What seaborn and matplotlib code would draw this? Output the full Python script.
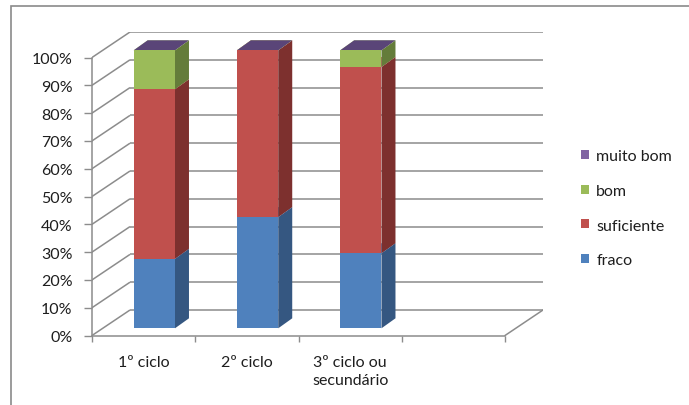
import matplotlib
matplotlib.use("Agg")
import matplotlib.pyplot as plt
import numpy as np
import pandas as pd
import seaborn as sns
from matplotlib.patches import Polygon, Rectangle
from matplotlib.transforms import ScaledTranslation

# ---- data (percent of pupils per level) ----
categories = ["1º ciclo", "2º ciclo", "3º ciclo ou\nsecundário"]
levels = ["fraco", "suficiente", "bom", "muito bom"]
fraco = [25, 40, 27]
suficiente = [61, 60, 67]
bom = [14, 0, 6]
muito_bom = [0, 0, 0]
yticks = [0, 10, 20, 30, 40, 50, 60, 70, 80, 90, 100]
ytick_labels = [f"{v}%" for v in yticks]

front_colors = {"fraco": "#4F81BD", "suficiente": "#C0504D",
                "bom": "#9BBB59", "muito bom": "#8064A2"}
side_colors = {"fraco": "#355781", "suficiente": "#7D302E",
               "bom": "#647C3A", "muito bom": "#5A4578"}
top_colors = {"fraco": "#6A94C9", "suficiente": "#CF6E6B",
              "bom": "#AECB74", "muito bom": "#5F4A7C"}
grid_color = "#8C8C8C"
text_color = "#1E1E1E"
fs = 11.5

df = pd.DataFrame({"ciclo": categories, "fraco": fraco, "suficiente": suficiente,
                   "bom": bom, "muito bom": muito_bom})
cum = df[levels].cumsum(axis=1)
cum["ciclo"] = df["ciclo"]

sns.set_theme(style="white")
plt.rcParams["font.family"] = ["Lato", "DejaVu Sans"]
plt.rcParams["font.size"] = fs

W, H = 689, 406
fig = plt.figure(figsize=(W / 100, H / 100), dpi=100)

# plotting box in pixels: front plane from left/bottom, back wall up to right/top
left, right, bottom, top = 92, 543, 336.5, 33
slot = 103.25          # pixels per category slot
unit = 2.78            # pixels per percent
ax = fig.add_axes([left / W, 1 - bottom / H, (right - left) / W, (bottom - top) / H])

# oblique depth of the floor/wall and of the bars (in data units)
wall_dx, wall_dy = 38 / slot, 25.5 / unit
bar_dx, bar_dy = 14 / slot, 10 / unit
bar_shift = ScaledTranslation(10.7 / 100, 7.2 / 100, fig.dpi_scale_trans)
n_slots = 4
x0, x1 = -0.5, n_slots - 0.5

# back wall gridlines with their diagonal returns to the front axis
for v in yticks:
    ax.plot([x0, x0 + wall_dx], [v, v + wall_dy], color=grid_color, lw=1.1, zorder=1,
            solid_capstyle="butt")
    ax.plot([x0 + wall_dx, x1 + wall_dx], [v + wall_dy] * 2, color=grid_color, lw=1.1,
            zorder=1, solid_capstyle="butt")
# floor right edge
ax.plot([x1, x1 + wall_dx], [0, wall_dy], color=grid_color, lw=1.1, zorder=1)

# front faces: cumulative stacks drawn from the tallest down
bar_width = 0.4
for lvl in reversed(levels):
    before = len(ax.patches)
    sns.barplot(data=cum, x="ciclo", y=lvl, order=categories, color=front_colors[lvl],
                saturation=1, width=bar_width, linewidth=0, errorbar=None, ax=ax)
    for p in ax.patches[before:]:
        p.set_transform(ax.transData + bar_shift)
        p.set_zorder(3)

# side and top faces of every stacked segment
for i, cat in enumerate(categories):
    xa = i - bar_width / 2
    xb = i + bar_width / 2
    base = 0
    for k, lvl in enumerate(levels):
        h = df.loc[i, lvl]
        b, t = base, base + h
        if h > 0:
            side = Polygon([(xb, b), (xb + bar_dx, b + bar_dy), (xb + bar_dx, t + bar_dy), (xb, t)],
                           closed=True, facecolor=side_colors[lvl], edgecolor="none",
                           zorder=2 + 0.01 * k, transform=ax.transData + bar_shift)
            ax.add_patch(side)
        cap = Polygon([(xa, t), (xb, t), (xb + bar_dx, t + bar_dy), (xa + bar_dx, t + bar_dy)],
                      closed=True, facecolor=top_colors[lvl] if lvl != "muito bom" else side_colors[lvl],
                      edgecolor="none", zorder=2 + 0.01 * k, transform=ax.transData + bar_shift)
        ax.add_patch(cap)
        base = t

ax.set_xlim(x0, x0 + (right - left) / slot)
ax.set_ylim(0, (bottom - top) / unit)

# axes: front vertical axis and floor front edge
for s in ["top", "right"]:
    ax.spines[s].set_visible(False)
ax.spines["left"].set_bounds(0, 100)
ax.spines["bottom"].set_bounds(x0, x1)
for s in ["left", "bottom"]:
    ax.spines[s].set_color(grid_color)
    ax.spines[s].set_linewidth(1.1)
    ax.spines[s].set_zorder(1)

ax.set_yticks(yticks)
ax.set_yticklabels(ytick_labels)
ax.set_xticks(range(len(categories)))
ax.set_xticklabels(categories, linespacing=1.35)
ax.set_xticks(np.arange(x0, x1 + 0.01, 1), minor=True)
ax.tick_params(axis="y", which="major", direction="out", length=6, width=1,
               color=grid_color, pad=8, labelsize=fs, labelcolor=text_color, left=True)
ax.tick_params(axis="x", which="major", length=0, pad=14, labelsize=fs,
               labelcolor=text_color)
ax.tick_params(axis="x", which="minor", direction="out", length=4, width=1,
               color=grid_color, bottom=True)
ax.set_xlabel("")
ax.set_ylabel("")
ax.grid(False)

# legend, top level first
handles = [Rectangle((0, 0), 1, 1, facecolor=front_colors[l], edgecolor="none")
           for l in reversed(levels)]
fig.legend(handles, list(reversed(levels)), loc="upper left",
           bbox_to_anchor=(581 / W, 1 - 150 / H), frameon=False,
           handlelength=0.5, handleheight=0.5, handletextpad=0.45,
           labelspacing=1.3, borderpad=0, borderaxespad=0, fontsize=fs,
           labelcolor=text_color)

# chart area border
fig.add_artist(Rectangle((10.5 / W, -0.1), 1.2, 1.1 - 6.5 / H, transform=fig.transFigure,
                         fill=False, edgecolor="#8A8A8A", lw=1.2))

fig.savefig("out.png", dpi=100)
